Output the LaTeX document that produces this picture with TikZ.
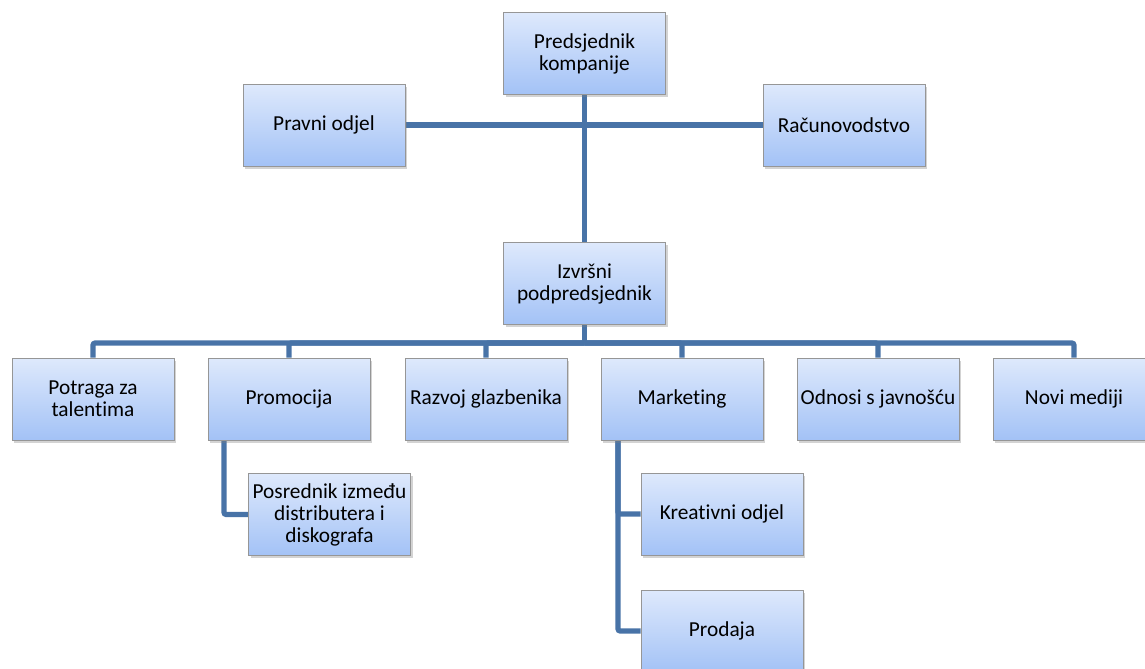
\documentclass[tikz,border=0pt]{standalone}
\usepackage{fontspec}
\setmainfont{Carlito}[Ligatures={NoCommon}]
\usetikzlibrary{positioning,calc,shadows,backgrounds}
\definecolor{boxtop}{RGB}{222,233,252}
\definecolor{boxbot}{RGB}{163,194,246}
\definecolor{boxline}{RGB}{150,150,150}
\definecolor{linkblue}{RGB}{72,115,167}
\tikzset{
	unit/.style={draw=boxline,line width=0.6pt,top color=boxtop,bottom color=boxbot,
		minimum width=121.5pt,minimum height=61.5pt,align=center,inner sep=2pt,
		font=\fontsize{16}{16.5}\selectfont,
		drop shadow={opacity=0.35,shadow xshift=1.5pt,shadow yshift=-2pt}},
	link/.style={draw=linkblue,line width=3.8pt,rounded corners=1.5pt}
}
\begin{document}
\begin{tikzpicture}[x=0.75pt,y=-0.75pt]
		\useasboundingbox (0,0) rectangle (1145,668);
		\node[unit] (pres) at (584.5,53.5) {Predsjednik\\kompanije};
		\node[unit] (pravni) at (324,125) {Pravni odjel};
		\node[unit] (racun) at (844,125) {Računovodstvo};
		\node[unit] (izv) at (584.5,283.5) {Izvršni\\podpredsjednik};
		\node[unit] (potraga) at (93,399) {Potraga za\\talentima};
		\node[unit] (prom) at (289,399) {Promocija};
		\node[unit] (razvoj) at (486,399) {Razvoj glazbenika};
		\node[unit] (mark) at (682,399) {Marketing};
		\node[unit] (odnosi) at (878,399) {Odnosi s javnošću};
		\node[unit] (novi) at (1074,399) {Novi mediji};
		\node[unit] (posr) at (329.5,514.5) {Posrednik između\\distributera i\\diskografa};
		\node[unit] (kreat) at (722,514) {Kreativni odjel};
		\node[unit] (prod) at (722,631) {Prodaja};
		\coordinate (bus) at (584.5,343);
		\begin{scope}[on background layer]
			\draw[link] (pravni.east) -- (racun.west);
			\draw[link] (pres.south) -- (izv.north);
			\draw[link] (izv.south) -- (bus);
			\foreach \n in {potraga,prom,razvoj,mark,odnosi,novi}
				\draw[link] (bus) -| (\n.north);
			\draw[link] ([xshift=-48.75pt]prom.south) |- (posr.west);
			\draw[link] ([xshift=-48pt]mark.south) |- (kreat.west);
			\draw[link] ([xshift=-48pt]mark.south) |- (prod.west);
		\end{scope}
	\end{tikzpicture}
\end{document}
